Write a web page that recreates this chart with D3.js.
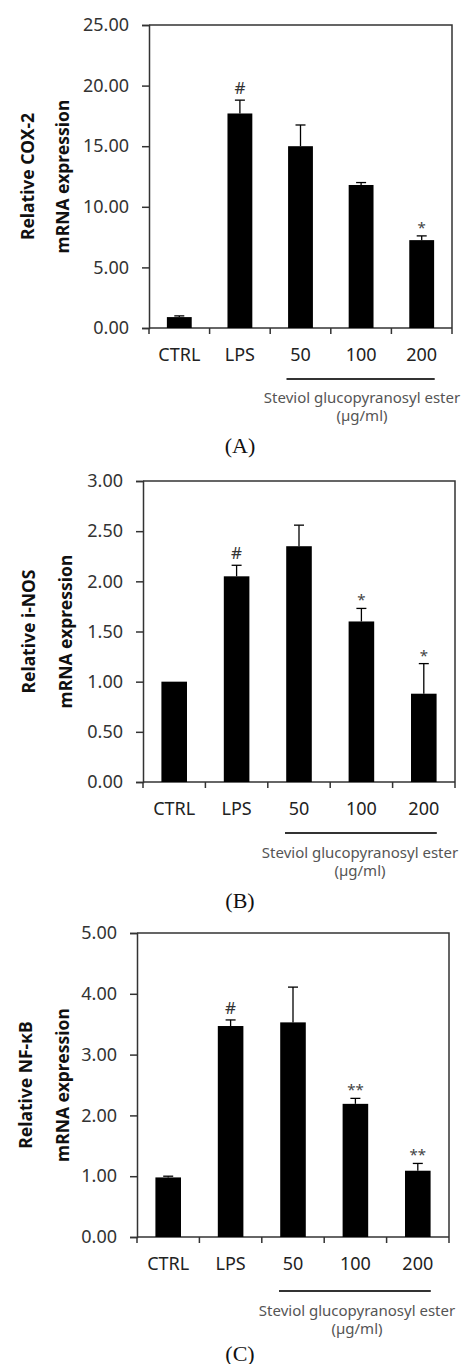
<!DOCTYPE html>
<html><head><meta charset="utf-8">
<script src="https://cdn.jsdelivr.net/npm/d3@7"></script>
<style>
html,body{margin:0;padding:0;background:#fff;}
svg{display:block;}
</style></head>
<body>
<script>
// ---- data ----
const categories = ["CTRL", "LPS", "50", "100", "200"];

const cox2Means  = [0.9, 17.7, 15.0, 11.8, 7.25];
const cox2Errors = [0.1, 1.1, 1.75, 0.2, 0.35];
const cox2Marks  = ["", "#", "", "", "*"];
const cox2Ticks  = [0, 5, 10, 15, 20, 25];

const inosMeans  = [1.0, 2.05, 2.35, 1.60, 0.88];
const inosErrors = [0.0, 0.11, 0.21, 0.13, 0.30];
const inosMarks  = ["", "#", "", "*", "*"];
const inosTicks  = [0, 0.5, 1.0, 1.5, 2.0, 2.5, 3.0];

const nfkbMeans  = [0.98, 3.47, 3.53, 2.19, 1.09];
const nfkbErrors = [0.02, 0.10, 0.58, 0.09, 0.12];
const nfkbMarks  = ["", "#", "", "**", "**"];
const nfkbTicks  = [0, 1, 2, 3, 4, 5];

const yLabels = [["Relative COX-2", "mRNA expression"],
                 ["Relative i-NOS", "mRNA expression"],
                 ["Relative NF-\u03baB", "mRNA expression"]];
const treatLabel = "Steviol glucopyranosyl ester";
const unitLabel = "(\u00b5g/ml)";
const panelTags = ["(A)", "(B)", "(C)"];

// ---- layout (positions only) ----
const layouts = [
  {left:149, right:452, top:25,  bottom:328,  lab1:27, lab2:62, lineDy:51, textDy:69, tag:445, treatCx:362},
  {left:143, right:455, top:481, bottom:782,  lab1:28, lab2:65, lineDy:51, textDy:70, tag:900, treatCx:360},
  {left:137, right:449, top:933, bottom:1237, lab1:25, lab2:62, lineDy:54, textDy:73, tag:1353, treatCx:357}
];
const panels = [
  {means:cox2Means, errors:cox2Errors, marks:cox2Marks, ticks:cox2Ticks},
  {means:inosMeans, errors:inosErrors, marks:inosMarks, ticks:inosTicks},
  {means:nfkbMeans, errors:nfkbErrors, marks:nfkbMarks, ticks:nfkbTicks}
];

const W = 463, H = 1364;
const axisColor = "#333";
const font = "'Noto Sans', 'Open Sans', sans-serif";

const svg = d3.select("body").append("svg")
  .attr("width", W).attr("height", H)
  .style("background", "#fff");

panels.forEach((p, i) => {
  const L = layouts[i];
  const g = svg.append("g");
  const ticks = p.ticks;
  const y = d3.scaleLinear().domain([ticks[0], ticks[ticks.length - 1]]).range([L.bottom, L.top]);
  const xBand = d3.scaleBand().domain(categories).range([L.left, L.right]).padding(0);
  const xBar = d3.scaleBand().domain(categories).range([L.left, L.right])
    .paddingInner(0.59).paddingOuter(0.295);

  // y axis
  const yAxis = g.append("g").attr("transform", `translate(${L.left},0)`)
    .call(d3.axisLeft(y).tickValues(ticks).tickFormat(d3.format(".2f")).tickSize(7).tickPadding(13));
  yAxis.selectAll("path,line").attr("stroke", axisColor).attr("stroke-width", 1.5);
  yAxis.selectAll("text").attr("fill", "#333").style("font-family", font).style("font-size", "18px");

  // top and right border
  g.append("path")
    .attr("d", `M${L.left},${L.top}H${L.right}V${L.bottom}`)
    .attr("fill", "none").attr("stroke", axisColor).attr("stroke-width", 1.5);

  // x axis baseline
  g.append("line").attr("x1", L.left).attr("x2", L.right)
    .attr("y1", y(0)).attr("y2", y(0))
    .attr("stroke", axisColor).attr("stroke-width", 1.5);

  // boundary ticks (hanging down)
  const bounds = categories.map(c => xBand(c)).concat([xBand(categories[categories.length - 1]) + xBand.bandwidth()]);
  g.selectAll(".bt").data(bounds).enter().append("line")
    .attr("x1", d => d).attr("x2", d => d)
    .attr("y1", y(0)).attr("y2", y(0) + 6)
    .attr("stroke", axisColor).attr("stroke-width", 1.5);

  // x labels
  const xAxis = g.append("g").attr("transform", `translate(0,${y(0)})`)
    .call(d3.axisBottom(xBand).tickSize(0).tickPadding(20));
  xAxis.select(".domain").remove();
  xAxis.selectAll("text").attr("fill", "#222").style("font-family", font).style("font-size", "18px");

  // bars
  const data = categories.map((c, k) => ({c, v:p.means[k], e:p.errors[k], m:p.marks[k]}));
  g.selectAll(".bar").data(data).enter().append("rect")
    .attr("x", d => xBar(d.c)).attr("width", xBar.bandwidth())
    .attr("y", d => y(d.v)).attr("height", d => y(0) - y(d.v))
    .attr("fill", "#000");

  // error bars (upper only)
  const eb = data.filter(d => d.e > 0);
  const cx = d => xBar(d.c) + xBar.bandwidth() / 2;
  g.selectAll(".ev").data(eb).enter().append("line")
    .attr("x1", cx).attr("x2", cx)
    .attr("y1", d => y(d.v)).attr("y2", d => y(d.v + d.e))
    .attr("stroke", "#000").attr("stroke-width", 1.3);
  g.selectAll(".ec").data(eb).enter().append("line")
    .attr("x1", d => cx(d) - 5).attr("x2", d => cx(d) + 5)
    .attr("y1", d => y(d.v + d.e)).attr("y2", d => y(d.v + d.e))
    .attr("stroke", "#000").attr("stroke-width", 1.3);

  // significance marks
  g.selectAll(".mk").data(data.filter(d => d.m)).enter().append("text")
    .attr("x", cx)
    .attr("y", d => y(d.v + d.e) - (d.m === "#" ? 6 : 3))
    .attr("text-anchor", "middle")
    .attr("fill", d => d.m === "#" ? "#333" : "#444")
    .style("font-family", font)
    .style("font-size", d => d.m === "#" ? "17px" : "15px")
    .text(d => d.m);

  // y labels
  const yc = (L.top + L.bottom) / 2;
  [L.lab1, L.lab2].forEach((lx, k) => {
    g.append("text")
      .attr("transform", `translate(${lx},${yc}) rotate(-90)`)
      .attr("text-anchor", "middle").attr("dominant-baseline", "central")
      .attr("fill", "#111")
      .style("font-family", font).style("font-weight", "bold").style("font-size", "17.5px")
      .text(yLabels[i][k]);
  });

  // treatment bracket line
  const x50 = xBand("50") + xBand.bandwidth() / 2;
  const x200 = xBand("200") + xBand.bandwidth() / 2;
  g.append("line")
    .attr("x1", x50 - 14).attr("x2", x200 + 13)
    .attr("y1", y(0) + L.lineDy).attr("y2", y(0) + L.lineDy)
    .attr("stroke", "#333").attr("stroke-width", 1.8);
  g.append("text").attr("x", L.treatCx).attr("y", y(0) + L.textDy)
    .attr("text-anchor", "middle").attr("dominant-baseline", "central")
    .attr("fill", "#555").style("font-family", font).style("font-size", "15px")
    .text(treatLabel);
  g.append("text").attr("x", L.treatCx).attr("y", y(0) + L.textDy + 18)
    .attr("text-anchor", "middle").attr("dominant-baseline", "central")
    .attr("fill", "#555").style("font-family", font).style("font-size", "15px")
    .text(unitLabel);

  // panel tag
  svg.append("text").attr("x", 240).attr("y", L.tag)
    .attr("text-anchor", "middle").attr("dominant-baseline", "central")
    .attr("fill", "#111").style("font-family", "'Liberation Serif', 'Times New Roman', serif")
    .style("font-size", "22px").text(panelTags[i]);
});
</script>
</body></html>
